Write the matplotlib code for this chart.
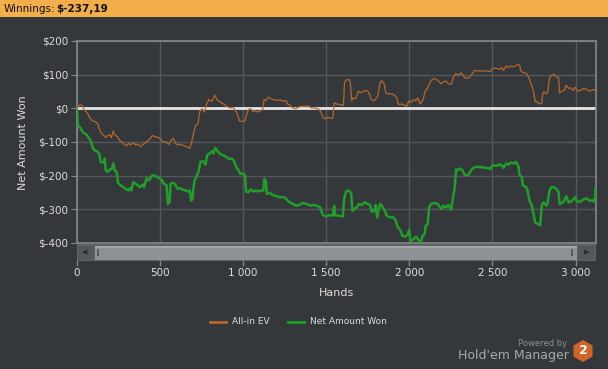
import numpy as np
import matplotlib
matplotlib.use("Agg")
import matplotlib.pyplot as plt
from matplotlib.patches import Rectangle, RegularPolygon
from matplotlib.transforms import IdentityTransform

# All-in EV curve (hands, $)
ev_hands = [0, 20, 34, 44, 64, 80, 94, 108, 124, 134, 148, 160, 174, 184, 200, 208, 220, 228, 244,
            260, 274, 284, 300, 314, 324, 340, 354, 368, 384, 394, 414, 434, 454, 474, 494, 508, 520,
            534, 554, 568, 580, 594, 608, 624, 644, 664, 680, 688, 700, 714, 728, 740, 754, 768, 780,
            794, 812, 822, 832, 842, 862, 882, 902, 922, 938, 952, 966, 978, 992, 1012, 1022, 1032,
            1046, 1058, 1072, 1086, 1102, 1118, 1126, 1138, 1152, 1166, 1182, 1203, 1223, 1243, 1259,
            1267, 1283, 1293, 1313, 1327, 1343, 1363, 1383, 1399, 1413, 1433, 1453, 1467, 1480, 1494,
            1508, 1524, 1540, 1548, 1564, 1584, 1604, 1610, 1620, 1630, 1644, 1654, 1664, 1678, 1694,
            1710, 1724, 1744, 1758, 1770, 1790, 1810, 1824, 1834, 1850, 1858, 1874, 1895, 1911, 1925,
            1931, 1939, 1955, 1971, 1985, 1995, 2011, 2025, 2039, 2051, 2065, 2075, 2085, 2095, 2105,
            2115, 2131, 2151, 2171, 2191, 2206, 2220, 2236, 2252, 2266, 2280, 2296, 2312, 2326, 2340,
            2360, 2376, 2392, 2412, 2436, 2466, 2486, 2502, 2522, 2542, 2556, 2566, 2583, 2597, 2611,
            2627, 2637, 2651, 2663, 2671, 2687, 2707, 2723, 2737, 2747, 2757, 2767, 2777, 2791, 2797,
            2803, 2811, 2823, 2831, 2843, 2857, 2871, 2888, 2898, 2904, 2918, 2932, 2944, 2958, 2972,
            2984, 2998, 3012, 3028, 3048, 3068, 3084, 3104, 3120]
ev_won = [0, 11, 8, -4, -14, -29, -37, -39, -44, -59, -74, -79, -87, -81, -79, -87, -67, -79, -84,
          -97, -101, -107, -111, -104, -109, -101, -109, -107, -114, -109, -101, -94, -81, -85, -87, -94, -101,
          -99, -107, -94, -89, -104, -109, -107, -111, -114, -119, -107, -79, -51, -47, -9, -1, -11, 11,
          26, 21, 31, 39, 26, 19, 13, 6, 1, 3, -4, -17, -37, -39, -37, -17, -4,
          -1, -9, -7, -11, -7, -4, 26, 23, 33, 29, 26, 24, 25, 21, 23,
          13, 9, 3, -1, 1, 6, 6, 7, 5, 1, 1, -2, -9, -27, -31,
          -27, -29, -29, 16, 13, 11, 9, 76, 84, 86, 81, 23, 31, 29, 51,
          46, 51, 53, 46, 26, 23, 36, 76, 83, 71, 46, 43, 43, 39, 31,
          16, 11, 13, 9, 6, 21, 19, 26, 23, 31, 13, 19, 29, 51, 56,
          66, 83, 89, 83, 73, 79, 81, 73, 71, 93, 103, 99, 105, 96, 89,
          91, 101, 113, 111, 111, 111, 109, 119, 119, 116, 121, 113, 126, 121, 126,
          123, 126, 129, 129, 111, 106, 103, 86, 66, 51, 21, 19, 16, 13, 16,
          46, 49, 43, 46, 89, 99, 101, 93, 91, 46, 51, 53, 69, 59, 61,
          53, 63, 51, 53, 59, 56, 51, 56, 53]

# Net Amount Won curve (hands, $)
net_hands = [0, 8, 20, 34, 44, 60, 74, 88, 94, 104, 120, 134, 144, 160, 168, 174, 184, 200, 208, 220,
             228, 240, 248, 264, 280, 294, 308, 320, 328, 340, 354, 368, 380, 394, 404, 420, 434, 454,
             474, 494, 508, 524, 540, 548, 558, 564, 580, 594, 604, 620, 634, 654, 668, 680, 688, 696,
             700, 708, 720, 734, 744, 760, 774, 784, 800, 814, 822, 832, 842, 858, 878, 898, 918, 932,
             946, 958, 972, 982, 996, 1012, 1018, 1032, 1046, 1062, 1078, 1092, 1112, 1122, 1128, 1138,
             1143, 1159, 1179, 1199, 1223, 1247, 1263, 1279, 1299, 1319, 1339, 1359, 1383, 1403, 1423,
             1443, 1463, 1480, 1500, 1520, 1540, 1548, 1554, 1574, 1600, 1608, 1620, 1634, 1650, 1658,
             1670, 1684, 1698, 1714, 1730, 1750, 1764, 1774, 1790, 1798, 1806, 1814, 1824, 1834, 1850,
             1864, 1885, 1905, 1919, 1931, 1945, 1959, 1975, 1991, 1999, 2007, 2025, 2039, 2051, 2059,
             2071, 2079, 2091, 2099, 2111, 2119, 2131, 2151, 2171, 2191, 2206, 2220, 2236, 2252, 2260,
             2272, 2282, 2292, 2306, 2320, 2332, 2352, 2366, 2376, 2396, 2426, 2456, 2476, 2486, 2502,
             2522, 2542, 2556, 2566, 2583, 2597, 2611, 2627, 2643, 2657, 2663, 2677, 2683, 2703, 2711,
             2723, 2737, 2747, 2757, 2777, 2787, 2797, 2807, 2823, 2831, 2843, 2857, 2871, 2888, 2898,
             2904, 2918, 2932, 2944, 2958, 2972, 2984, 2998, 3008, 3028, 3048, 3064, 3084, 3104, 3116,
             3120]
net_won = [0, -54, -57, -69, -74, -79, -89, -101, -114, -124, -127, -134, -159, -161, -149, -184, -189, -181, -181, -164,
           -184, -189, -221, -229, -234, -239, -244, -237, -244, -219, -224, -229, -234, -227, -234, -207, -214, -199,
           -201, -207, -211, -224, -229, -284, -279, -224, -221, -227, -239, -237, -241, -244, -247, -244, -274, -269,
           -244, -214, -204, -184, -159, -157, -167, -139, -134, -127, -134, -117, -124, -134, -139, -144, -151, -149,
           -157, -174, -184, -194, -194, -197, -247, -249, -241, -247, -244, -247, -244, -244, -209, -217,
           -254, -251, -257, -261, -264, -264, -271, -279, -284, -289, -287, -281, -284, -289, -287,
           -289, -294, -317, -321, -317, -319, -289, -317, -319, -321, -269, -247, -244, -251, -304,
           -299, -294, -284, -287, -279, -284, -287, -307, -304, -287, -324, -304, -284, -289, -301,
           -319, -324, -324, -334, -354, -361, -379, -381, -374, -361, -394, -389, -381, -387, -394,
           -397, -379, -374, -349, -344, -294, -284, -281, -284, -299, -289, -294, -287, -301, -274,
           -239, -181, -184, -179, -184, -197, -199, -189, -181, -174, -174, -177, -177, -181, -169,
           -171, -167, -169, -177, -164, -167, -161, -164, -159, -174, -199, -204, -229, -234, -244,
           -274, -289, -314, -339, -344, -347, -289, -279, -289, -284, -244, -234, -234, -241, -249,
           -284, -281, -274, -261, -279, -277, -271, -264, -277, -277, -271, -267, -274, -274, -277,
           -237.19]

x_ticks = [0, 500, 1000, 1500, 2000, 2500, 3000]
x_labels = ["0", "500", "1 000", "1 500", "2 000", "2 500", "3 000"]
y_ticks = [200, 100, 0, -100, -200, -300, -400]
y_labels = ["$200", "$100", "$0", "$-100", "$-200", "$-300", "$-400"]

BG = "#35383b"
GRID = "#54575b"
TXT = "#dcdcdc"
ORANGE = "#b5682b"
GREEN = "#1f9f2a"

W, H = 608, 369
fig = plt.figure(figsize=(W / 100, H / 100), dpi=100, facecolor=BG)

# plot area in pixel coords
L, R, T, B = 76.8, 595.5, 41, 243
ax = fig.add_axes([L / W, 1 - B / H, (R - L) / W, (B - T) / H], facecolor=BG)
ax.set_xlim(0, 3120)
ax.set_ylim(-400, 200)
ax.grid(True, color=GRID, lw=1)
ax.set_axisbelow(True)
for s in ax.spines.values():
    s.set_color("#85888b")
    s.set_linewidth(1.2)

ax.axhline(0, color="#e6e6e6", lw=2.0, zorder=2)
ax.plot(ev_hands, ev_won, color=ORANGE, lw=0.9, zorder=3)
ax.plot(net_hands, net_won, color=GREEN, lw=1.8, zorder=4)

ax.set_yticks(y_ticks)
ax.set_yticklabels(y_labels)
ax.set_xticks(x_ticks)
ax.set_xticklabels([])
ax.tick_params(axis="y", colors="#85888b", labelcolor=TXT, labelsize=7.5, length=4, pad=2)
ax.tick_params(axis="x", length=0)

fig.text(23 / W, 1 - 143 / H, "Net Amount Won", rotation=90, ha="center", va="center",
         color=TXT, fontsize=8)

# scrollbar below plot
def px_rect(x0, y0, x1, y1, **kw):
    r = Rectangle((x0 / W, 1 - y1 / H), (x1 - x0) / W, (y1 - y0) / H,
                  transform=fig.transFigure, **kw)
    fig.patches.append(r)

px_rect(L, 243.5, R, 261, facecolor="#606366", edgecolor="none")
px_rect(95, 245.5, 577, 259.5, facecolor="#8f9294", edgecolor="none")
px_rect(95, 245.5, 577, 248, facecolor="#a3a5a7", edgecolor="none")
px_rect(L + 1, 245.5, 94, 259.5, facecolor="#55585b", edgecolor="none")
px_rect(578, 245.5, R - 1, 259.5, facecolor="#55585b", edgecolor="none")
fig.text(85 / W, 1 - 252.5 / H, "\u25c0", ha="center", va="center", fontsize=5, color="#2a2c2e")
fig.text(587 / W, 1 - 252.5 / H, "\u25b6", ha="center", va="center", fontsize=5, color="#2a2c2e")
px_rect(97, 249, 99, 256, facecolor="#5a5d60", edgecolor="none")
px_rect(571, 249, 573, 256, facecolor="#5a5d60", edgecolor="none")

# x tick marks and labels below the scrollbar
for v, lab in zip(x_ticks, x_labels):
    xp = L + v / 3120 * (R - L)
    fig.lines.append(plt.Line2D([xp / W, xp / W], [1 - 261 / H, 1 - 265 / H],
                                transform=fig.transFigure, color="#85888b", lw=1))
    fig.text(xp / W, 1 - 273 / H, lab, ha="center", va="center", color=TXT, fontsize=7.5)
fig.text((L + R) / 2 / W, 1 - 293 / H, "Hands", ha="center", va="center", color=TXT, fontsize=8)

# legend
fig.lines.append(plt.Line2D([210 / W, 226 / W], [1 - 322 / H] * 2, transform=fig.transFigure,
                            color=ORANGE, lw=2))
fig.text(232 / W, 1 - 322 / H, "All-in EV", ha="left", va="center", color=TXT, fontsize=6.5)
fig.lines.append(plt.Line2D([288 / W, 304 / W], [1 - 322 / H] * 2, transform=fig.transFigure,
                            color=GREEN, lw=2))
fig.text(310 / W, 1 - 322 / H, "Net Amount Won", ha="left", va="center", color=TXT, fontsize=6.5)

# title bar
px_rect(0, 0, W, 17, facecolor="#f3ad4a", edgecolor="none")
fig.text(4 / W, 1 - 9 / H, "Winnings:", ha="left", va="center", color="#111111", fontsize=7.5)
fig.text(56 / W, 1 - 9 / H, "$-237,19", ha="left", va="center", color="#111111",
         fontsize=7.5, fontweight="bold")

# branding
fig.text(567 / W, 1 - 344 / H, "Powered by", ha="right", va="center", color="#8c8f92", fontsize=6)
fig.text(569 / W, 1 - 356 / H, "Hold'em Manager", ha="right", va="center", color="#a6a9ac",
         fontsize=9)
hexagon = RegularPolygon((583, H - 351), numVertices=6, radius=11, orientation=0,
                         transform=IdentityTransform(), facecolor="#d0652a", edgecolor="none")
fig.patches.append(hexagon)
fig.text(583 / W, 1 - 351 / H, "2", ha="center", va="center", color="white", fontsize=9,
         fontweight="bold")

fig.savefig("out.png", dpi=100, facecolor=BG)
